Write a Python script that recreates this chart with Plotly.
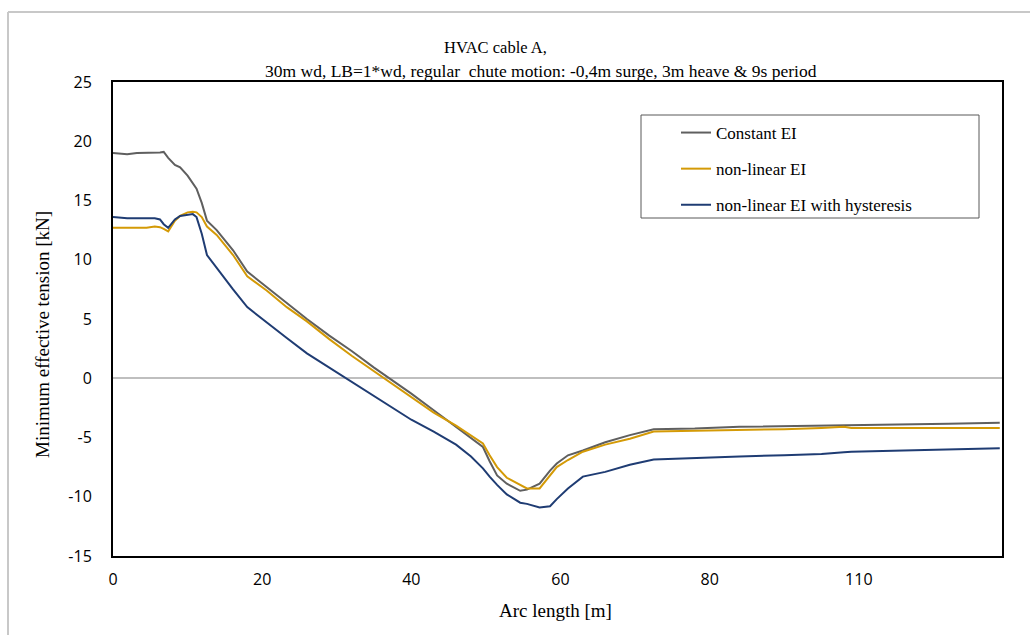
import plotly.graph_objects as go

arc_length = [0, 1.9, 3.2, 4.5, 5.6, 6.3, 6.8, 7.4, 8.3, 9.0, 10.0, 10.7, 11.2, 11.9, 12.6, 13.9,
              16.1, 18.0, 20.6, 23.3, 26, 29, 32, 35, 37.5, 40, 43, 46, 48, 49.6, 50.5, 51.5,
              52.8, 54.6, 55.5, 57.2, 58.6, 59.5, 61, 63, 66, 69.3, 72.5, 78, 84, 90, 95, 98,
              99, 106, 112, 118.9]

constant_ei = [19.0, 18.9, 19.0, 19.0, 19.0, 19.05, 19.1, 18.6, 18.0, 17.8, 17.1, 16.5, 16.0, 14.8,
               13.3, 12.5, 10.8, 9.0, 7.7, 6.3, 5.0, 3.6, 2.3, 0.9, -0.2, -1.3, -2.7, -4.1, -5.0,
               -5.8, -7.0, -8.2, -8.9, -9.5, -9.4, -8.9, -7.8, -7.2, -6.5, -6.1, -5.4, -4.8,
               -4.3, -4.25, -4.1, -4.05, -4.0, -4.0, -3.95, -3.9, -3.85, -3.75]

nonlinear_ei = [12.7, 12.7, 12.7, 12.7, 12.8, 12.75, 12.6, 12.4, 13.3, 13.7, 14.0, 14.05, 14.0, 13.6,
                12.8, 12.1, 10.4, 8.6, 7.4, 6.0, 4.8, 3.3, 1.9, 0.6, -0.5, -1.6, -2.9, -4.0, -4.8,
                -5.5, -6.5, -7.5, -8.4, -9.0, -9.3, -9.3, -8.2, -7.5, -6.9, -6.2, -5.6, -5.1,
                -4.5, -4.45, -4.4, -4.3, -4.2, -4.1, -4.2, -4.2, -4.2, -4.2]

nonlinear_ei_hyst = [13.6, 13.5, 13.5, 13.5, 13.5, 13.4, 13.0, 12.7, 13.4, 13.7, 13.8, 13.85, 13.6, 12.2,
                     10.4, 9.3, 7.5, 6.0, 4.7, 3.4, 2.1, 0.9, -0.3, -1.5, -2.5, -3.5, -4.5, -5.6, -6.6,
                     -7.6, -8.3, -9.0, -9.8, -10.5, -10.6, -10.9, -10.8, -10.2, -9.3, -8.3, -7.9, -7.3,
                     -6.85, -6.7, -6.6, -6.5, -6.4, -6.25, -6.2, -6.1, -6.0, -5.9]

series_names = ["Constant EI", "non-linear EI", "non-linear EI with hysteresis"]
series_colors = ["#5f5f5f", "#d49a06", "#1f3c73"]

x_tickvals = [0, 20, 40, 60, 80, 100]
x_ticktext = ["0", "20", "40", "60", "80", "110"]
y_tickvals = [-15, -10, -5, 0, 5, 10, 15, 20, 25]
y_ticktext = ["-15", "-10", "-5", "0", "5", "10", "15", "20", "25"]

title_line1 = "HVAC cable A,"
title_line2 = "30m wd, LB=1*wd, regular  chute motion: -0,4m surge, 3m heave &amp; 9s period"

fig = go.Figure()
for i, (name, ys, col) in enumerate(zip(series_names, [constant_ei, nonlinear_ei, nonlinear_ei_hyst], series_colors)):
    fig.add_trace(go.Scatter(x=arc_length, y=ys, mode="lines", name=name,
                             line=dict(color=col, width=2), legendgroup=f"g{i}"))

L, R, T, B = 113, 28, 82, 79
W, H = 1030, 635
pw, ph = W - L - R, H - T - B

def px(xp):
    return (xp - L) / pw

def py(yp):
    return (H - B - yp) / ph

serif = "Liberation Serif, Times New Roman, serif"
sans = "Open Sans, Liberation Sans, sans-serif"

fig.update_layout(
    width=W, height=H,
    margin=dict(l=L, r=R, t=T, b=B, pad=0),
    paper_bgcolor="white", plot_bgcolor="white",
    showlegend=True,
    legend=dict(x=px(676), y=py(115), xanchor="left", yanchor="top",
                font=dict(family=serif, size=17, color="#000"),
                bgcolor="rgba(0,0,0,0)", borderwidth=0,
                traceorder="grouped", tracegroupgap=11),
    xaxis=dict(range=[0, 119.2], tickvals=x_tickvals, ticktext=x_ticktext,
               showgrid=False, zeroline=False, showline=True, mirror=True,
               linecolor="#000", linewidth=2, ticks="",
               tickfont=dict(family=sans, size=16, color="#000"), ticklabelstandoff=8),
    yaxis=dict(range=[-15, 25], tickvals=y_tickvals, ticktext=y_ticktext,
               showgrid=False, zeroline=True, zerolinecolor="#bfbfbf", zerolinewidth=2,
               showline=True, mirror=True, linecolor="#000", linewidth=2, ticks="",
               tickfont=dict(family=sans, size=16, color="#000"), ticklabelstandoff=16),
    shapes=[
        dict(type="rect", xref="paper", yref="paper", x0=px(641), x1=px(979), y0=py(218), y1=py(115),
             line=dict(color="#595959", width=1), fillcolor="rgba(0,0,0,0)"),
        dict(type="line", xref="paper", yref="paper", x0=px(8), x1=px(1030), y0=py(12), y1=py(12),
             line=dict(color="#c8c8c8", width=2)),
        dict(type="line", xref="paper", yref="paper", x0=px(8), x1=px(8), y0=py(12), y1=py(635),
             line=dict(color="#c8c8c8", width=2)),
    ],
    annotations=[
        dict(text=title_line1, xref="paper", yref="paper", x=px(495), y=py(48), showarrow=False,
             xanchor="center", yanchor="middle", font=dict(family=serif, size=16.5, color="#000")),
        dict(text=title_line2, xref="paper", yref="paper", x=px(541), y=py(71), showarrow=False,
             xanchor="center", yanchor="middle", font=dict(family=serif, size=17.5, color="#000")),
        dict(text="Minimum effective tension [kN]", xref="paper", yref="paper", x=px(42), y=py(335),
             showarrow=False, textangle=-90, xanchor="center", yanchor="middle",
             font=dict(family=serif, size=19, color="#000")),
        dict(text="Arc length [m]", xref="paper", yref="paper", x=px(555), y=py(610), showarrow=False,
             xanchor="center", yanchor="middle", font=dict(family=serif, size=19, color="#000")),
    ],
)

fig.write_html("out.html")
